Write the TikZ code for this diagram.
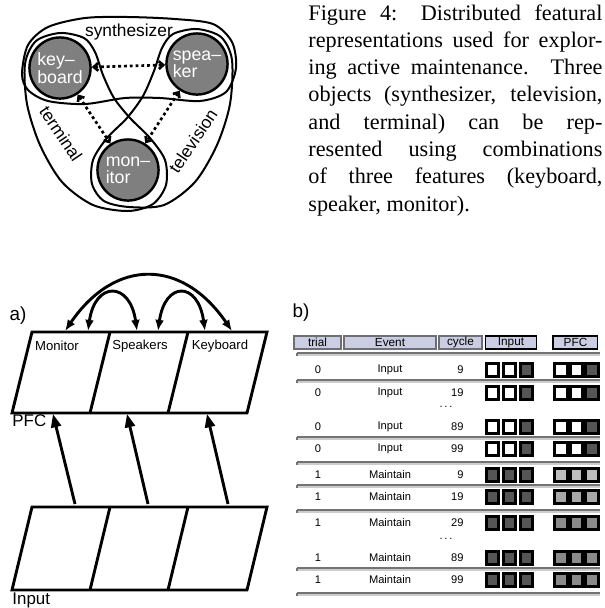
\documentclass[tikz,border=0pt]{standalone}
\usepackage{fontspec}
\setmainfont{Liberation Serif}
\setsansfont{Liberation Sans}
\usepackage{xcolor}
\usetikzlibrary{arrows.meta,positioning}

\definecolor{featgray}{HTML}{7F7F7F}
\definecolor{actgray}{HTML}{555555}
\definecolor{pfclight}{HTML}{BDBDBD}
\definecolor{pfcmid}{HTML}{A8A8A8}
\definecolor{pfcdark}{HTML}{8A8A8A}
\definecolor{btnfill}{HTML}{CBCDE2}
\definecolor{btnedge}{HTML}{6E6E74}

\newcommand{\capline}[1]{\makebox[132.3pt][s]{#1}}

\begin{document}
\begin{tikzpicture}[x=0.45pt,y=-0.45pt,
  feat/.style={circle,draw,line width=1.1pt,fill=featgray,minimum size=27.5pt,
               inner sep=0pt,text=white,align=left,
               font=\sffamily\fontsize{8}{7.8}\selectfont},
  objline/.style={line width=0.9pt},
  link/.style={line width=1.2pt,dash pattern=on 1.3pt off 1.3pt,
               {Straight Barb[length=2pt,width=3.5pt]}-{Straight Barb[length=2pt,width=3.5pt]}},
  objlbl/.style={font=\sffamily\fontsize{7.8}{8}\selectfont,inner sep=0pt},
  capt/.style={anchor=base west,inner sep=0pt,font=\fontsize{10}{12}\selectfont},
  layer/.style={line width=1.3pt,line join=miter},
  cell/.style={font=\sffamily\fontsize{5.9}{6}\selectfont,inner sep=0pt},
  up/.style={-{Triangle[length=6pt,width=4.5pt]},line width=1.3pt},
  swap/.style={{Latex[length=5pt,width=4pt]}-{Latex[length=5pt,width=4pt]},line width=1.3pt},
  tag/.style={font=\sffamily\fontsize{7.6}{8}\selectfont,inner sep=0pt},
  panel/.style={font=\sffamily\fontsize{8.5}{9}\selectfont,inner sep=0pt},
  btn/.style={draw=btnedge,line width=1pt,fill=btnfill,minimum height=6pt,
              inner sep=0pt,font=\sffamily\fontsize{5.3}{5.5}\selectfont},
  btnb/.style={btn,draw=black,line width=0.7pt},
  rowtxt/.style={font=\sffamily\fontsize{5}{5.5}\selectfont,inner sep=0pt},
  unit/.style={draw=black,line width=1.4pt,minimum size=5.5pt,inner sep=0pt},
  sep/.style={draw=black!55,line width=0.5pt},
  seplt/.style={draw=black!20,line width=0.5pt}
]
\useasboundingbox (0,0) rectangle (605,608);

% features and objects
\node[feat] (kb)  at (60,68)   {key--\\board};
\node[feat] (sp)  at (197,64)  {spea--\\ker};
\node[feat] (mon) at (128,170) {mon--\\itor};

\draw[objline] plot[smooth cycle] coordinates {(22,74) (28,45) (48,27) (85,18)
  (128,17) (175,19) (213,24) (232,42) (236,68) (226,92) (200,101) (160,98)
  (125,98) (85,104) (48,101) (28,90)};
\draw[objline] plot[smooth cycle] coordinates {(95,52) (84,38) (60,33) (36,41)
  (25,64) (27,104) (40,145) (62,182) (93,205) (128,211) (153,204) (166,185)
  (165,160) (150,138) (130,118) (114,98) (103,75)};
\draw[objline] plot[smooth cycle] coordinates {(162,48) (173,34) (197,29) (221,37)
  (232,60) (230,104) (217,145) (195,182) (164,205) (129,207) (104,201) (92,184)
  (93,160) (107,138) (127,118) (143,96) (154,71)};

\draw[link] (kb) -- (sp);
\draw[link] (kb) -- (mon);
\draw[link] (sp) -- (mon);

\node[objlbl] (synth) at (129,32) {synthesizer};
\node[objlbl,rotate=-56] (term) at (61,134) {terminal};
\node[objlbl,rotate=56] (tv) at (193,141) {television};

% caption
\node[capt] (cap1) at (308,20)    {\capline{Figure 4: Distributed featural}};
\node[capt] (cap2) at (308,47.3)  {\capline{representations used for explor-}};
\node[capt] (cap3) at (308,74.6)  {\capline{ing active maintenance. Three}};
\node[capt] (cap4) at (308,101.9) {\capline{objects (synthesizer, television,}};
\node[capt] (cap5) at (308,129.2) {\capline{and terminal) can be rep-}};
\node[capt] (cap6) at (308,156.5) {\capline{resented using combinations}};
\node[capt] (cap7) at (308,183.8) {\capline{of three features (keyboard,}};
\node[capt] (cap8) at (308,211.1) {speaker, monitor).};

% a) PFC and input layers
\node[panel] (pa) at (18,316) {a)};
\draw[layer] (32,332) -- (267,332) -- (247,413) -- (12,413) -- cycle;
\draw[layer] (110,332) -- (90,413) (188,332) -- (168,413);
\draw[layer] (32,507) -- (267,507) -- (247,590) -- (12,590) -- cycle;
\draw[layer] (110,507) -- (90,590) (188,507) -- (168,590);

\node[cell] (monitor)  at (57,346)  {Monitor};
\node[cell] (speakers) at (140,346) {Speakers};
\node[cell] (keyboard) at (220,346) {Keyboard};
\node[tag,anchor=west] (pfc) at (12,421) {PFC};
\node[tag,anchor=west] (inp) at (12,600) {Input};

\coordinate (in1) at (75,504);
\coordinate (in2) at (148,504);
\coordinate (in3) at (228,504);
\coordinate (pf1) at (53,414);
\coordinate (pf2) at (127,414);
\coordinate (pf3) at (207,414);
\draw[up] (in1) -- (pf1);
\draw[up] (in2) -- (pf2);
\draw[up] (in3) -- (pf3);

\coordinate (mon-a) at (65,331);
\coordinate (mon-b) at (88,331);
\coordinate (spk-a) at (137,331);
\coordinate (spk-b) at (158,331);
\coordinate (key-a) at (205,331);
\coordinate (key-b) at (232,331);
\draw[swap] (mon-a) .. controls (115,258) and (182,258) .. (key-b);
\draw[swap] (mon-b) .. controls (95,281) and (130,281) .. (spk-a);
\draw[swap] (spk-b) .. controls (165,281) and (198,281) .. (key-a);

% b) activation table
\node[panel] (pb) at (301,313) {b)};
\node[btn,minimum width=21pt]  (htrial) at (317.5,342.5) {trial};
\node[btn,minimum width=41.5pt] (hevent) at (390,342.5) {Event};
\node[btn,minimum width=19.5pt] (hcycle) at (460.5,342.5) {cycle};
\node[btnb,minimum width=23pt] (hinput) at (511,342.5) {Input};
\node[btnb,minimum width=20pt] (hpfc)   at (575.5,342.5) {PFC};

\foreach \y in {353,380,437,462,485,510,568,593}{
  \draw[sep] (297,\y) -- (600,\y);
  \draw[seplt] (297,\y+2) -- (600,\y+2);
  \draw[sep] (297,\y) -- (297,\y+3);
}

\foreach \y/\tr/\ev/\cy/\ia/\pa/\pb [count=\i] in
  {370/0/Input/9/white/white/actgray,
   393/0/Input/19/white/white/actgray,
   427/0/Input/89/white/white/actgray,
   449/0/Input/99/white/white/actgray,
   475/1/Maintain/9/actgray/pfclight/pfclight,
   497/1/Maintain/19/actgray/pfcmid/pfcmid,
   523/1/Maintain/29/actgray/pfcdark/pfcdark,
   558/1/Maintain/89/actgray/pfcdark/pfcdark,
   580/1/Maintain/99/actgray/pfcdark/pfcdark}{
  \node[rowtxt] (trial\i) at (318,\y) {\tr};
  \node[rowtxt] (event\i) at (390,\y) {\ev};
  \node[rowtxt,anchor=east] (cycle\i) at (464,\y) {\cy};
  \node[unit,fill=\ia]     (ina\i) at (492.5,\y) {};
  \node[unit,fill=\ia]     (inb\i) at (509.5,\y) {};
  \node[unit,fill=actgray] (inc\i) at (526.5,\y) {};
  \node[unit,fill=\pa]     (pfa\i) at (561,\y) {};
  \node[unit,fill=\pa]     (pfb\i) at (576.5,\y) {};
  \node[unit,fill=\pb]     (pfc\i) at (592,\y) {};
}
\node[rowtxt] (gap1) at (446,407) {.\,.\,.};
\node[rowtxt] (gap2) at (446,539) {.\,.\,.};
\end{tikzpicture}
\end{document}
